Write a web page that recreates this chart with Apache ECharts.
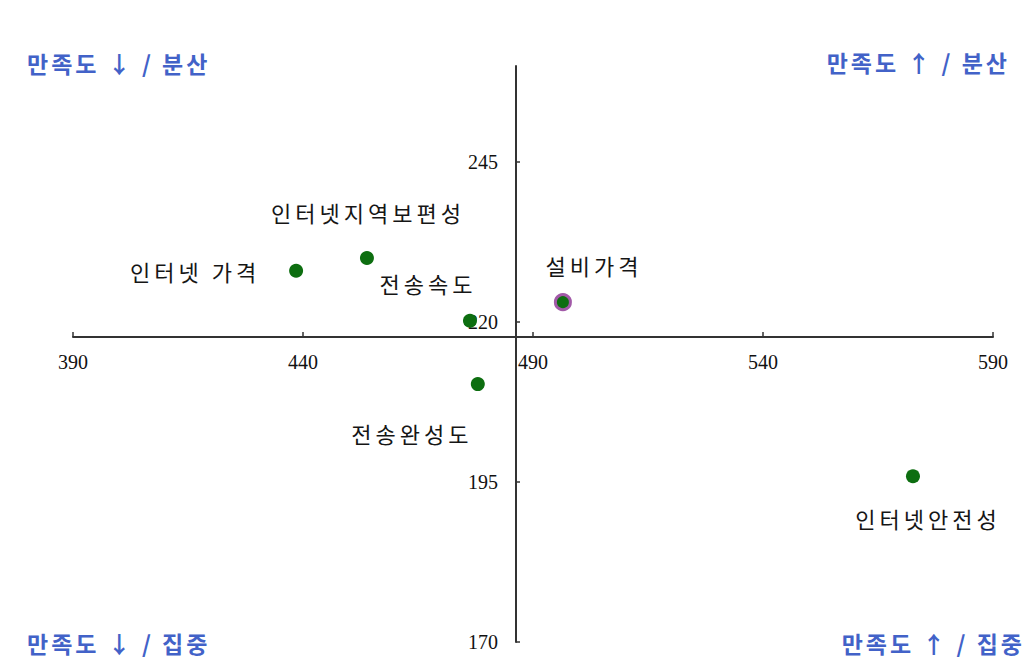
<!DOCTYPE html>
<html>
<head>
<meta charset="utf-8">
<script src="https://cdn.jsdelivr.net/npm/echarts@6/dist/echarts.min.js"></script>
<style>
  html, body { margin: 0; padding: 0; background: #fff; }
  #main { width: 1032px; height: 659px; }
  #main text[style*="22px"] { letter-spacing: 4px; }
  #main text[style*="23px"] { letter-spacing: 3px; }
</style>
</head>
<body>
<div id="main"></div>
<script>
// ---- data ----
const names = ['인터넷 가격', '인터넷지역보편성', '전송속도', '설비가격', '전송완성도', '인터넷안전성'];
const satisfaction = [438.5, 453.9, 476.3, 496.5, 478.0, 572.6];   // x
const dispersion = [228.0, 230.0, 220.2, 223.1, 210.3, 195.9];      // y
const xTicks = [390, 440, 490, 540, 590];
const yTicks = [170, 195, 220, 245];
const cornerTexts = ['만족도 ↓ / 분산', '만족도 ↑ / 분산', '만족도 ↓ / 집중', '만족도 ↑ / 집중'];

// ---- label placement (styling, not data) ----
const labelOffsets = [[-101, 0], [1, -46], [-42, -38], [31, -37], [-66, 49], [15, 42]];
const highlighted = '설비가격';

const GREEN = '#0d6e10';
const AXIS = '#333333';
const KFONT = '"Noto Sans CJK KR", "Noto Sans", sans-serif';
const CORNER_FONT = 'bold 23px ' + KFONT;
const BLUE = '#4262c8';

const seriesData = names.map((n, i) => {
  const item = {
    name: n,
    value: [satisfaction[i], dispersion[i]],
    label: { offset: labelOffsets[i] }
  };
  if (n === highlighted) {
    item.symbolSize = 15;
    item.itemStyle = { color: GREEN, borderColor: '#a25aa8', borderWidth: 3, opacity: 1 };
  }
  return item;
});

const chart = echarts.init(document.getElementById('main'), null, { renderer: 'svg' });

chart.setOption({
  backgroundColor: '#ffffff',
  animation: false,
  grid: [
    { left: 73, right: 39, top: 66, bottom: 17 },
    { left: 73, right: 39, top: 66, height: 271 },
    { left: 516, width: 100, top: 66, bottom: 17 }
  ],
  xAxis: [
    { gridIndex: 0, type: 'value', min: 390, max: 590, show: false },
    {
      gridIndex: 1, type: 'value', min: 390, max: 590, interval: 50, position: 'bottom',
      axisLine: { show: true, lineStyle: { color: AXIS, width: 2 } },
      axisTick: { show: true, inside: true, length: 5, lineStyle: { color: AXIS, width: 1.5 } },
      axisLabel: {
        margin: 15, color: '#111', fontFamily: '"Liberation Serif", serif', fontSize: 20,
        customValues: xTicks
      },
      splitLine: { show: false }
    },
    { gridIndex: 2, type: 'value', min: 0, max: 1, show: false }
  ],
  yAxis: [
    { gridIndex: 0, type: 'value', min: 170, max: 260, show: false },
    { gridIndex: 1, type: 'value', min: 0, max: 1, show: false },
    {
      gridIndex: 2, type: 'value', min: 170, max: 260, position: 'left',
      axisLine: { show: true, lineStyle: { color: AXIS, width: 2 } },
      axisTick: { show: true, inside: true, length: 4, lineStyle: { color: AXIS, width: 1.5 }, customValues: yTicks },
      axisLabel: {
        margin: 18, color: '#111', fontFamily: '"Liberation Serif", serif', fontSize: 20,
        customValues: yTicks
      },
      splitLine: { show: false }
    }
  ],
  series: [{
    type: 'scatter',
    xAxisIndex: 0,
    yAxisIndex: 0,
    symbol: 'circle',
    symbolSize: 14,
    itemStyle: { color: GREEN, opacity: 1 },
    z: 5,
    label: {
      show: true,
      position: 'inside',
      formatter: p => p.name,
      color: '#151515',
      fontFamily: KFONT,
      fontSize: 22,
      fontWeight: 'normal'
    },
    data: seriesData
  }],
  graphic: [
    { type: 'text', x: 27, y: 63, style: { text: cornerTexts[0], fill: BLUE, font: CORNER_FONT, textAlign: 'left', textVerticalAlign: 'middle' } },
    { type: 'text', x: 1010, y: 62, style: { text: cornerTexts[1], fill: BLUE, font: CORNER_FONT, textAlign: 'right', textVerticalAlign: 'middle' } },
    { type: 'text', x: 27, y: 643, style: { text: cornerTexts[2], fill: BLUE, font: CORNER_FONT, textAlign: 'left', textVerticalAlign: 'middle' } },
    { type: 'text', x: 1025, y: 643, style: { text: cornerTexts[3], fill: BLUE, font: CORNER_FONT, textAlign: 'right', textVerticalAlign: 'middle' } }
  ]
});
</script>
</body>
</html>
